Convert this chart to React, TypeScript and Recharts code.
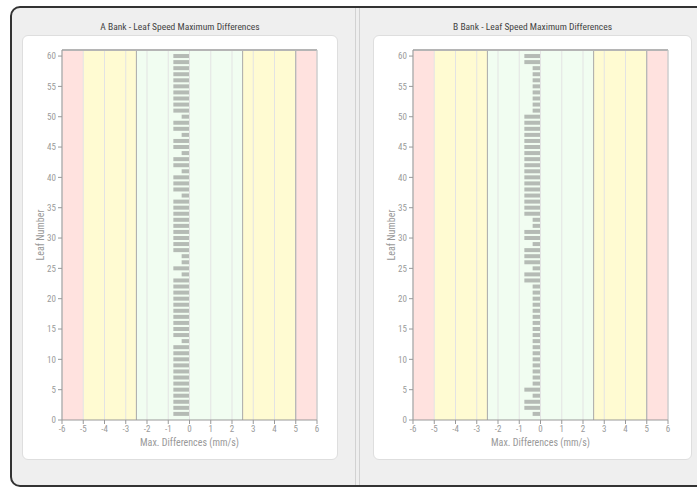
import React from 'react';
import {
  ComposedChart, Bar, XAxis, YAxis, ReferenceArea, ReferenceLine,
} from 'recharts';

// max speed difference per leaf, leaf 1 first (mm/s)
const bankAValues = [
  -0.76, -0.76, -0.76, -0.76, -0.76, -0.76, -0.76, -0.76, -0.76, -0.76,
  -0.76, -0.76, -0.37, -0.76, -0.76, -0.76, -0.76, -0.76, -0.76, -0.76,
  -0.76, -0.76, -0.76, -0.37, -0.76, -0.37, -0.37, -0.76, -0.76, -0.76,
  -0.76, -0.76, -0.76, -0.76, -0.76, -0.76, -0.37, -0.76, -0.76, -0.76,
  -0.37, -0.76, -0.76, -0.37, -0.76, -0.76, -0.37, -0.76, -0.76, -0.37,
  -0.76, -0.76, -0.76, -0.76, -0.76, -0.76, -0.76, -0.76, -0.76, -0.76,
];
const bankBValues = [
  -0.37, -0.76, -0.76, -0.37, -0.76, -0.37, -0.37, -0.37, -0.37, -0.37,
  -0.37, -0.37, -0.37, -0.37, -0.37, -0.37, -0.37, -0.37, -0.37, -0.37,
  -0.37, -0.37, -0.76, -0.76, -0.37, -0.76, -0.76, -0.76, -0.37, -0.76,
  -0.76, -0.37, -0.37, -0.76, -0.76, -0.76, -0.76, -0.76, -0.76, -0.76,
  -0.76, -0.76, -0.76, -0.76, -0.76, -0.76, -0.76, -0.76, -0.76, -0.76,
  -0.37, -0.37, -0.37, -0.37, -0.37, -0.37, -0.37, -0.37, -0.76, -0.76,
];

const xTicks = [-6, -5, -4, -3, -2, -1, 0, 1, 2, 3, 4, 5, 6];
const yTicks = [0, 5, 10, 15, 20, 25, 30, 35, 40, 45, 50, 55, 60];

const zones = [
  { x1: -6, x2: -5, fill: '#ffe2df' },
  { x1: -5, x2: -2.5, fill: '#fffbd2' },
  { x1: -2.5, x2: 2.5, fill: '#f1fdf1' },
  { x1: 2.5, x2: 5, fill: '#fffbd2' },
  { x1: 5, x2: 6, fill: '#ffe2df' },
];
const limitLines = [-2.5, 2.5, 5];

const FONT = "'Liberation Sans Narrow', 'Roboto Condensed', 'Liberation Sans', Arial, sans-serif";
const tickStyle = { fontSize: 9, fill: '#9a9a9a', fontFamily: FONT };

const BankPanel = ({
  title, values, left, width,
}: { title: string; values: number[]; left: number; width: number }) => {
  const rows = values.map((v, i) => ({ leaf: i + 1, diff: v }));
  return (
    <>
      <div style={{
        position: 'absolute', left: left - 12, width: width + 24, top: 21,
        textAlign: 'center', fontSize: 9.5, color: '#444', fontFamily: FONT,
      }}>
        {title}
      </div>
      <div style={{
        position: 'absolute', left, top: 35, width, height: 425, background: '#fff',
        border: '1px solid #dedede', borderRadius: 6, boxSizing: 'border-box',
      }}>
        <div style={{ position: 'absolute', left: -1, top: -1 }}>
          <ComposedChart layout="vertical" width={width} height={425} data={rows}
            margin={{ top: 15, right: width - 295, left: 0, bottom: 0 }}>
            {zones.map((z) => (
              <ReferenceArea key={z.x1} x1={z.x1} x2={z.x2} y1={0} y2={61}
                fill={z.fill} fillOpacity={1} stroke="none" />
            ))}
            {xTicks.map((t) => (
              <ReferenceLine key={`g${t}`} x={t} stroke="#e3e3e3" strokeWidth={1} />
            ))}
            {limitLines.map((t) => (
              <ReferenceLine key={`l${t}`} x={t} stroke="#a8a8a8" strokeWidth={1} />
            ))}
            <ReferenceLine y={61} stroke="#b5b5b5" strokeWidth={2} />
            <ReferenceLine x={6} stroke="#c4c4c4" strokeWidth={1} />
            <XAxis type="number" domain={[-6, 6]} ticks={xTicks} allowDataOverflow
              height={40} tick={tickStyle} tickSize={4} stroke="#999"
              label={{ value: 'Max. Differences (mm/s)', position: 'insideBottom', offset: 14,
                style: { fontSize: 10, fill: '#999', fontFamily: FONT } }} />
            <YAxis type="number" dataKey="leaf" domain={[0, 61]} ticks={yTicks} allowDataOverflow
              reversed width={40} tick={tickStyle} tickSize={4} stroke="#999"
              label={{ value: 'Leaf Number', angle: -90, position: 'insideLeft', offset: 18,
                style: { fontSize: 10, fill: '#999', fontFamily: FONT, textAnchor: 'middle' } }} />
            <Bar dataKey="diff" fill="#b5bbb5" barSize={4} isAnimationActive={false} />
          </ComposedChart>
        </div>
      </div>
    </>
  );
};

export default function App() {
  return (
    <div style={{ position: 'absolute', left: 0, top: 0, width: 697, height: 489, overflow: 'hidden', background: '#fff' }}>
      <div style={{
        position: 'absolute', left: 10, top: 6, width: 720, height: 481, boxSizing: 'border-box',
        border: '2px solid #333', borderRadius: 10, background: '#efefef',
      }} />
      <div style={{ position: 'absolute', left: 355, top: 8, width: 1, height: 477, background: '#d2d2d2' }} />
      <div style={{ position: 'absolute', left: 359, top: 8, width: 1, height: 477, background: '#d2d2d2' }} />
      <BankPanel title="A Bank - Leaf Speed Maximum Differences" values={bankAValues} left={22} width={316} />
      <BankPanel title="B Bank - Leaf Speed Maximum Differences" values={bankBValues} left={373} width={319} />
    </div>
  );
}
